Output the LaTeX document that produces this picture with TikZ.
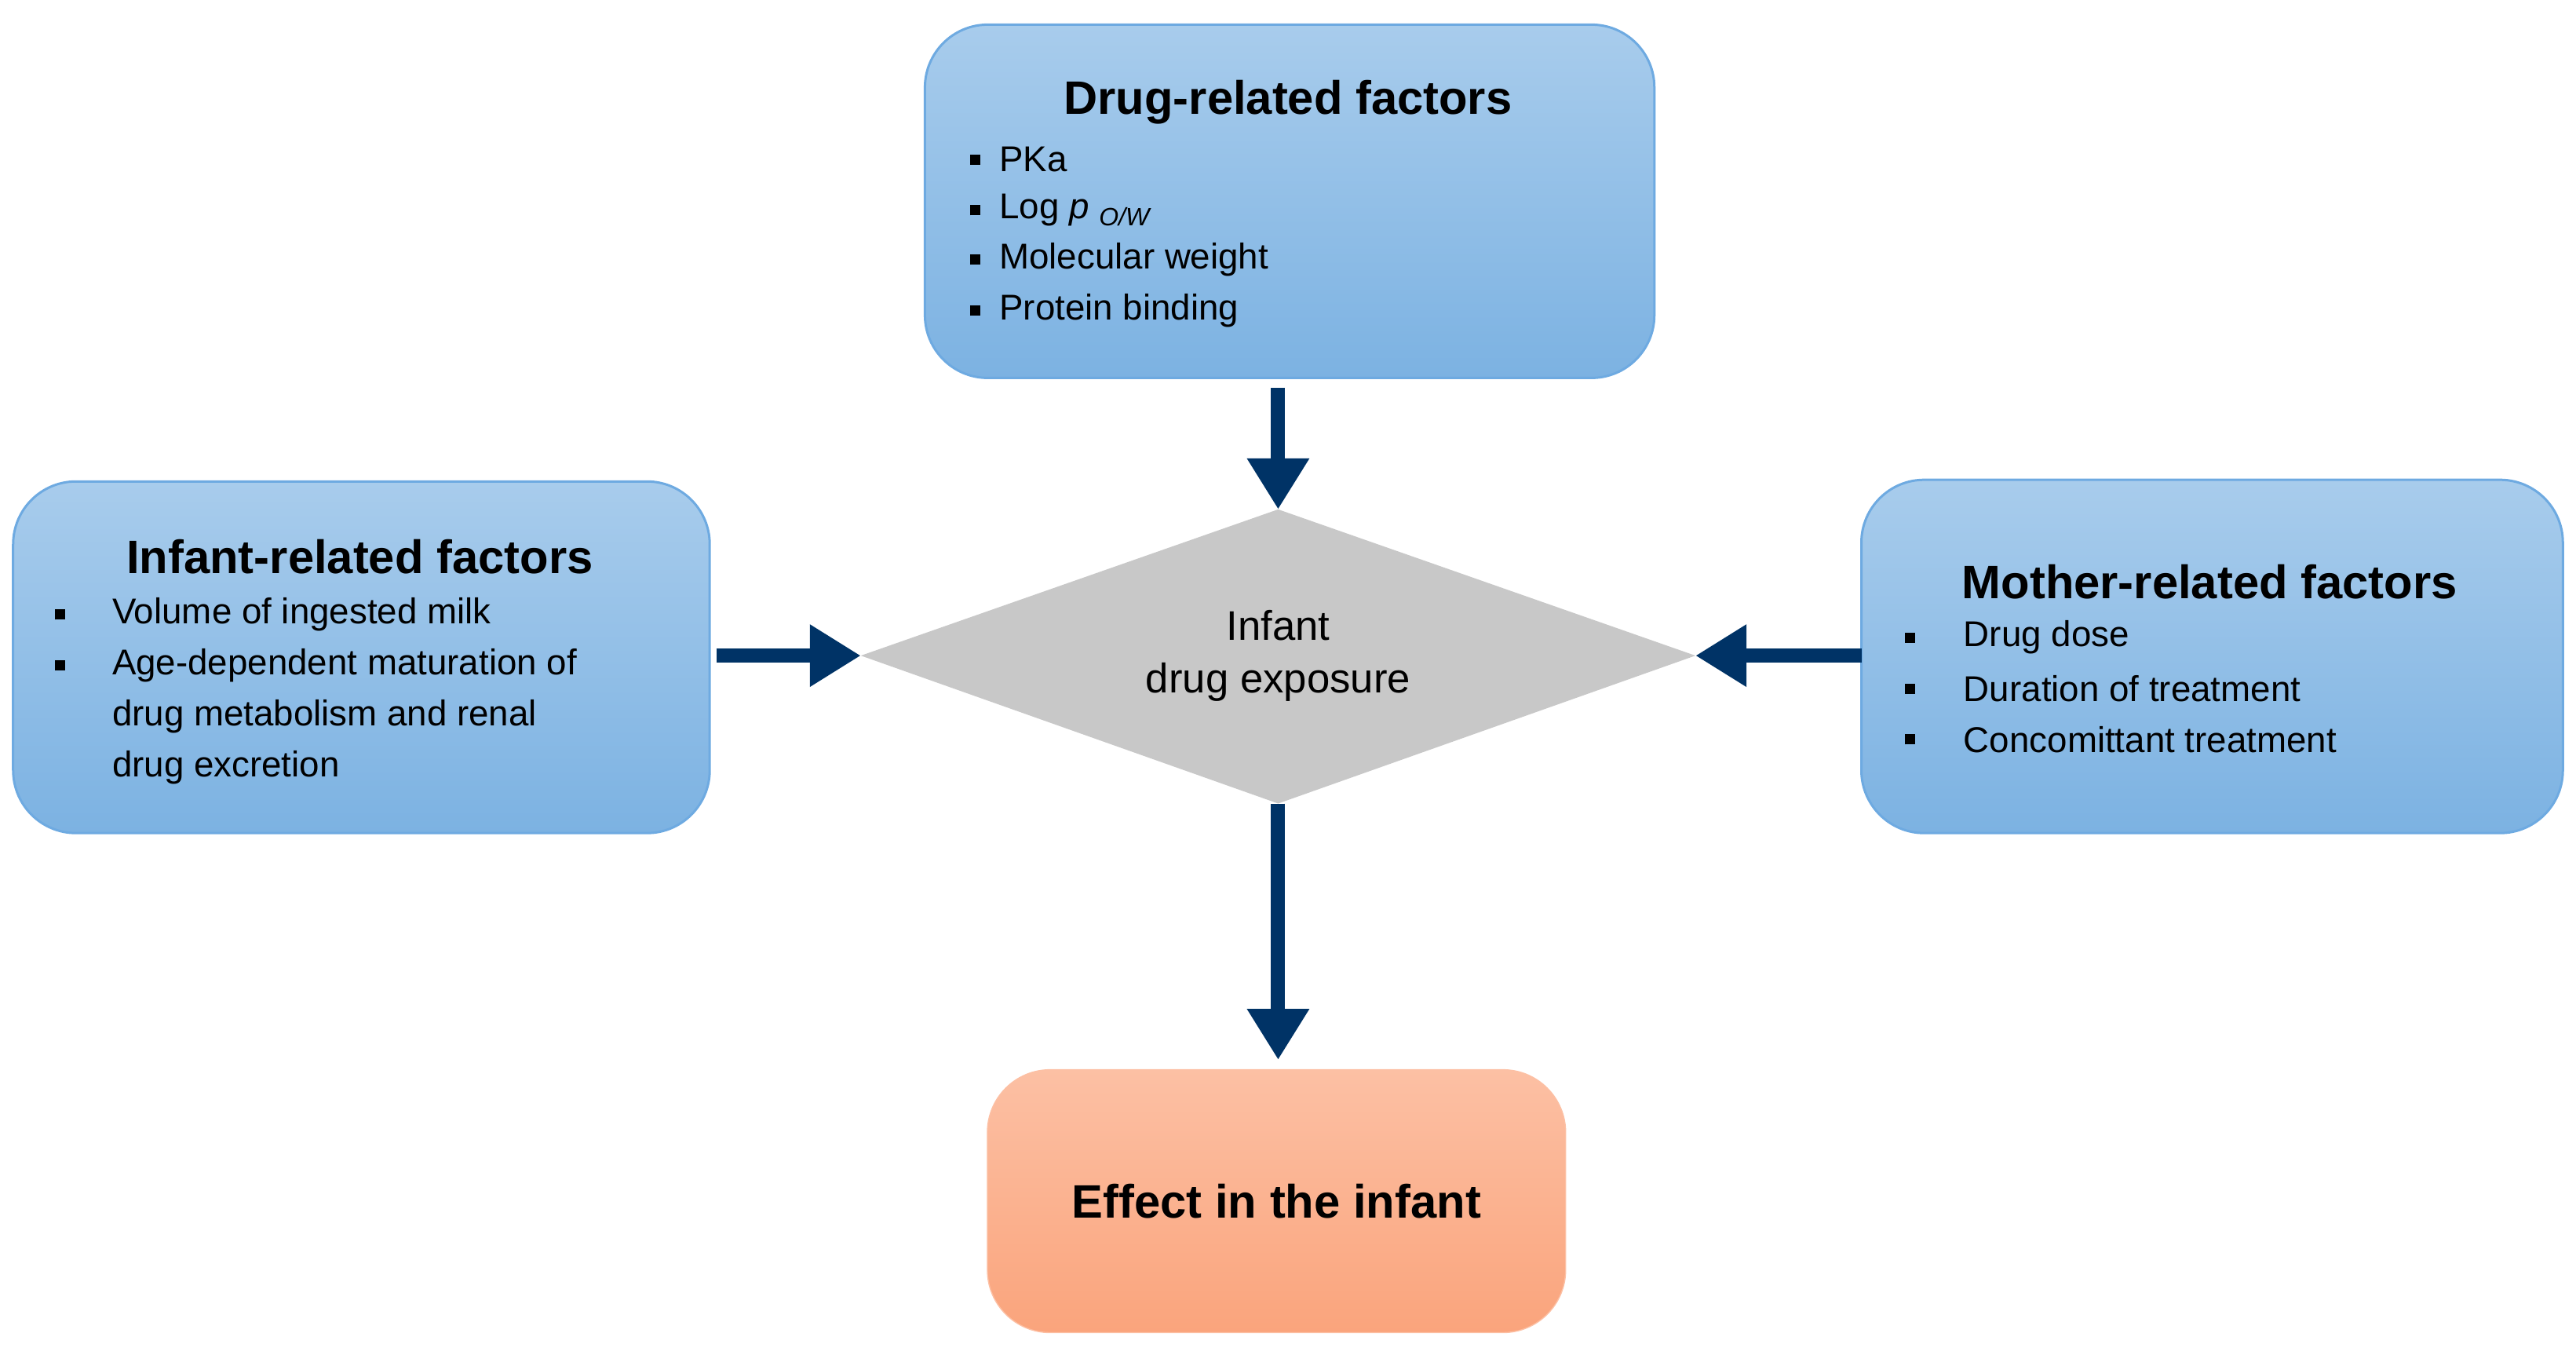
\documentclass[tikz,border=0pt]{standalone}
\usepackage{fontspec}
\setmainfont{Liberation Sans}
\usetikzlibrary{arrows.meta}
\definecolor{bluetop}{RGB}{168,204,236}
\definecolor{bluebot}{RGB}{124,178,226}
\definecolor{blueedge}{RGB}{110,170,225}
\definecolor{salmtop}{RGB}{252,192,164}
\definecolor{salmbot}{RGB}{250,164,124}
\definecolor{navy}{RGB}{0,51,102}
\tikzset{
 bluebox/.style={draw=blueedge,line width=0.3mm,rounded corners=8mm,top color=bluetop,bottom color=bluebot},
 title/.style={font=\fontsize{17}{20}\selectfont\bfseries},
 item/.style={anchor=west,font=\fontsize{13}{15}\selectfont,inner sep=0pt},
 arr/.style={draw=navy,line width=1.8mm,-{Triangle[length=6.5mm,width=7.5mm]}}
}
\newcommand{\bul}{\rule{1.3mm}{1.3mm}}
\begin{document}
\begin{tikzpicture}[x=0.2093mm,y=-0.2093mm]
\useasboundingbox (0,0) rectangle (1568,824.2);
% boxes
\node[bluebox,minimum width=444*0.2093mm,minimum height=215*0.2093mm] (drug) at (785,122.5) {};
\node[bluebox,minimum width=424*0.2093mm,minimum height=214*0.2093mm] (inf) at (220,400) {};
\node[bluebox,minimum width=427*0.2093mm,minimum height=215*0.2093mm] (moth) at (1346.5,399.5) {};
\node[draw=salmtop,rounded corners=8mm,top color=salmtop,bottom color=salmbot,minimum width=352*0.2093mm,minimum height=160*0.2093mm,font=\fontsize{17}{20}\selectfont\bfseries] (eff) at (777,731) {Effect in the infant};
\path[fill={rgb,255:red,200;green,200;blue,200}] (524,399) coordinate (dw) -- (778,310) coordinate (dn) -- (1032,399) coordinate (de) -- (778,489) coordinate (ds) -- cycle;
\node[align=center,font=\fontsize{15}{19}\selectfont] (dtext) at (778,399) {Infant\\drug exposure};
% drug text
\node[title] (dt) at (784,62) {Drug-related factors};
\foreach \t/\y in {PKa/97,{Log \textit{p} \textsubscript{\textit{O/W}}}/128,Molecular weight/158,Protein binding/189}{
 \node[item] at (590,\y) {\bul}; \node[item] at (608,\y) {\t};}
% infant
\node[title] (it) at (219,339) {Infant-related factors};
\node[item] at (33,374) {\bul}; \node[item] at (68,374) {Volume of ingested milk};
\node[item] at (33,405) {\bul}; \node[item] at (68,405) {Age-dependent maturation of};
\node[item] at (68,436) {drug metabolism and renal};
\node[item] at (68,467) {drug excretion};
% mother
\node[title] (mt) at (1345,354) {Mother-related factors};
\foreach \t/\y in {Drug dose/388,Duration of treatment/419,Concomittant treatment/450}{
 \node[item] at (1159,\y) {\bul}; \node[item] at (1195,\y) {\t};}
% arrows
\coordinate (a1) at (778,236); \coordinate (a2) at (436,399); \coordinate (a3) at (1133,399); \coordinate (a4) at (778,645);
\draw[arr] (a1) -- (dn);
\draw[arr] (a2) -- (dw);
\draw[arr] (a3) -- (de);
\draw[arr] (ds) -- (a4);
\end{tikzpicture}
\end{document}
